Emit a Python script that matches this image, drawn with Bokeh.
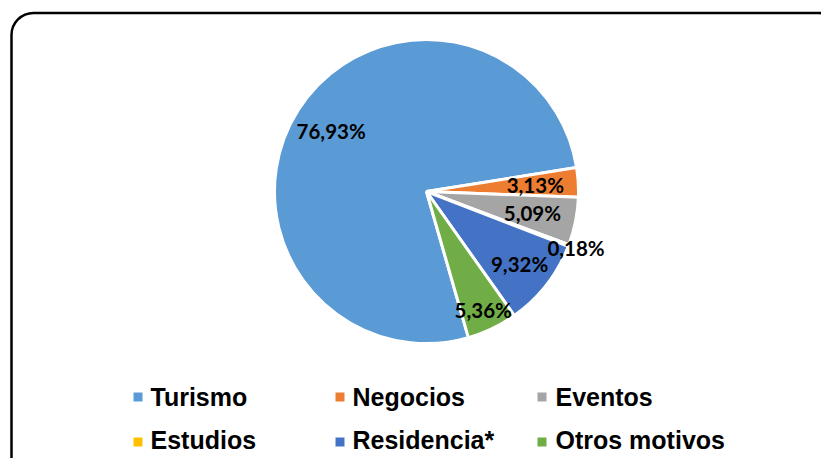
import math
from bokeh.plotting import figure
from bokeh.models import Range1d, BoxAnnotation, ColumnDataSource
from bokeh.core.properties import value
from bokeh.embed import file_html
from bokeh.resources import INLINE

# ---- data ----
categories = ["Turismo", "Negocios", "Eventos", "Estudios", "Residencia*", "Otros motivos"]
shares = [76.93, 3.13, 5.09, 0.18, 9.32, 5.36]
labels = ["76,93%", "3,13%", "5,09%", "0,18%", "9,32%", "5,36%"]
colors = ["#5B9BD5", "#ED7D31", "#A5A5A5", "#FFC000", "#4472C4", "#70AD47"]

# ---- layout (data units == screen pixels; y measured upward) ----
W, H = 821, 458
def Y(img_y):
    return H - img_y

CX, CY = 426, Y(191)         # pie centre
R = 152
START_DEG = 286.0            # first slice starts here, slices go clockwise
LABEL_DIST = [113, 109, 108, 160, 118, 131]

total = sum(shares)
starts, ends, mids = [], [], []
a = math.radians(START_DEG)
for s in shares:
    span = 2 * math.pi * s / total
    starts.append(a)
    ends.append(a - span)
    mids.append(a - span / 2)
    a -= span

src = ColumnDataSource(dict(start=starts, end=ends, color=colors, cat=categories))

p = figure(width=W, height=H, x_range=Range1d(0, W), y_range=Range1d(0, H),
           output_backend="svg", toolbar_location=None, min_border=0,
           background_fill_color="white", border_fill_color="white")
p.axis.visible = False
p.grid.visible = False
p.outline_line_color = None

# rounded chart border
p.add_layout(BoxAnnotation(left=11, right=840, top=Y(12.5), bottom=-30,
                           border_radius=22, fill_alpha=0, fill_color=None,
                           line_color="black", line_alpha=1.0, line_width=2.5))

p.wedge(x=CX, y=CY, radius=R, radius_units="screen",
        start_angle="end", end_angle="start", direction="anticlock",
        fill_color="color", line_color="white", line_width=3, source=src)

lx = [CX + d * math.cos(m) for d, m in zip(LABEL_DIST, mids)]
ly = [CY + d * math.sin(m) for d, m in zip(LABEL_DIST, mids)]
p.text(x=lx, y=ly, text=labels, text_align="center", text_baseline="middle",
       text_font=value("Lato"), text_font_style="bold", text_font_size="20.5px",
       text_color="black")

# legend (3 columns, 2 rows)
col_marker_x = [137.5, 339.5, 541.5]
col_text_x = [150, 352, 555]
row_text_y = [Y(396), Y(439)]
row_marker_y = [Y(396.5), Y(441.5)]
n = len(categories)
mx = [col_marker_x[i % 3] for i in range(n)]
my = [row_marker_y[i // 3] for i in range(n)]
tx = [col_text_x[i % 3] for i in range(n)]
ty = [row_text_y[i // 3] for i in range(n)]
p.scatter(x=mx, y=my, marker="square", size=9, fill_color=colors, line_color=None)
p.text(x=tx, y=ty, text=categories, text_align="left", text_baseline="middle",
       text_font=value("Liberation Sans"), text_font_style="bold",
       text_font_size="25px", text_color="black")

open("out.html", "w").write(file_html(p, INLINE))
